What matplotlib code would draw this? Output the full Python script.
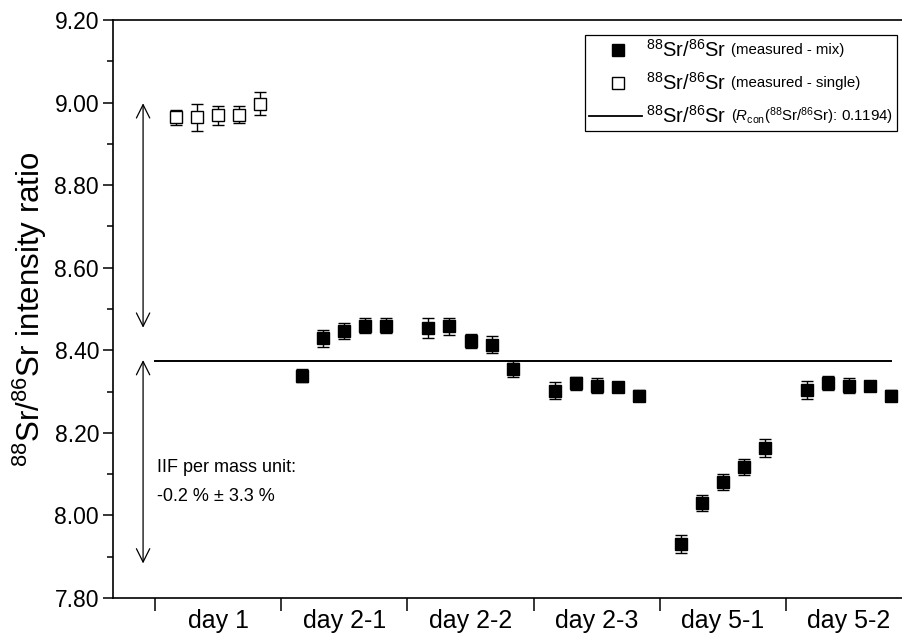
import numpy as np
import matplotlib
matplotlib.use("Agg")
import matplotlib.pyplot as plt
from matplotlib.lines import Line2D
from matplotlib.offsetbox import AnchoredOffsetbox, TextArea, DrawingArea, HPacker, VPacker

plt.rcParams['font.family'] = ['Liberation Sans', 'DejaVu Sans']
plt.rcParams['mathtext.fontset'] = 'custom'
plt.rcParams['mathtext.rm'] = 'Liberation Sans'
plt.rcParams['mathtext.it'] = 'Liberation Sans:italic'

# data
days = ['day 1', 'day 2-1', 'day 2-2', 'day 2-3', 'day 5-1', 'day 5-2']
single_day1 = [8.964, 8.964, 8.969, 8.971, 8.997]
single_day1_err = [0.018, 0.032, 0.023, 0.021, 0.028]
mix_vals = {
    'day 2-1': [8.338, 8.429, 8.447, 8.460, 8.460],
    'day 2-2': [8.453, 8.458, 8.422, 8.414, 8.354],
    'day 2-3': [8.302, 8.320, 8.314, 8.312, 8.290],
    'day 5-1': [7.931, 8.030, 8.081, 8.117, 8.163],
    'day 5-2': [8.304, 8.321, 8.314, 8.313, 8.290],
}
mix_errs = {
    'day 2-1': [0.016, 0.020, 0.020, 0.017, 0.017],
    'day 2-2': [0.024, 0.021, 0.017, 0.021, 0.019],
    'day 2-3': [0.021, 0.015, 0.018, 0.010, 0.014],
    'day 5-1': [0.021, 0.019, 0.020, 0.019, 0.021],
    'day 5-2': [0.021, 0.016, 0.018, 0.012, 0.013],
}
r_con = 0.1194
ref_ratio = 1 / r_con  # 8.375

slots = 6          # 5 measurements + one gap per day
pos = np.arange(1, 6)

fig = plt.figure(figsize=(9.02, 6.39), dpi=100)
ax = fig.add_axes([113/902, 41/639, 789/902, 578/639])

# single (open squares), day 1
x1 = 0 * slots + pos
ax.errorbar(x1, single_day1, yerr=single_day1_err, fmt='s', ms=8.5, mfc='white', mec='black',
            mew=1, ecolor='black', elinewidth=1, capsize=4.5, capthick=1, zorder=3)

# mix (filled squares)
for d in days[1:]:
    g = days.index(d)
    xs = g * slots + pos
    ax.errorbar(xs, mix_vals[d], yerr=mix_errs[d], fmt='s', ms=8, mfc='black', mec='black',
                ecolor='black', elinewidth=1, capsize=4.5, capthick=1, zorder=3)

# reference ratio line
ax.plot([0, 35], [ref_ratio, ref_ratio], color='black', lw=1.4, zorder=2)

# arrows
arrow_x = -0.57
ax.annotate('', xy=(arrow_x, 9.005), xytext=(arrow_x, 8.448),
            arrowprops=dict(arrowstyle='<->', lw=0.9, color='black', mutation_scale=24))
ax.annotate('', xy=(arrow_x, 8.383), xytext=(arrow_x, 7.877),
            arrowprops=dict(arrowstyle='<->', lw=0.9, color='black', mutation_scale=24))
ax.text(0.1, 8.117, 'IIF per mass unit:', fontsize=13, va='center', ha='left')
ax.text(0.1, 8.045, '-0.2 % \u00b1 3.3 %', fontsize=13, va='center', ha='left')

# axes
ax.set_xlim(-2, -2 + 789 / 21.03)
ax.set_ylim(7.80, 9.20)
ax.spines['right'].set_visible(False)
for s in ['left', 'bottom', 'top']:
    ax.spines[s].set_linewidth(1.2)

ax.set_yticks(np.arange(7.8, 9.21, 0.2))
ax.set_yticklabels(['%.2f' % v for v in np.arange(7.8, 9.21, 0.2)])
ax.set_yticks(np.arange(7.9, 9.2, 0.2), minor=True)
ax.tick_params(axis='y', which='major', direction='out', length=7, width=1.1, labelsize=16.5, pad=3)
ax.tick_params(axis='y', which='minor', direction='out', length=4, width=1.1)

ax.set_xticks(np.arange(len(days)) * slots)
ax.set_xticklabels([])
ax.set_xticks(np.arange(len(days)) * slots + 3, minor=True)
ax.set_xticklabels(days, minor=True)
ax.tick_params(axis='x', which='major', direction='out', length=9, width=1.1)
ax.tick_params(axis='x', which='minor', length=0, labelsize=18, pad=8)

ax.set_ylabel(r'$^{88}$Sr/$^{86}$Sr intensity ratio', fontsize=22.5, labelpad=4)

# legend built from pieces so the parentheses can be smaller
def handle(kind):
    da = DrawingArea(38, 10, 0, 0)
    if kind == 'line':
        da.add_artist(Line2D([0, 38], [5, 5], color='black', lw=1.3))
    else:
        fc = 'black' if kind == 'filled' else 'white'
        da.add_artist(Line2D([21], [5], marker='s', ms=8, mfc=fc, mec='black', mew=1, ls=''))
    return da

main_lab = r'$^{88}$Sr/$^{86}$Sr'
rows = []
for kind, small in [('filled', '(measured - mix)'),
                    ('open', '(measured - single)'),
                    ('line', r'($R_{\mathrm{con}}$($^{88}$Sr/$^{86}$Sr): 0.1194)')]:
    rows.append(HPacker(children=[handle(kind),
                                  TextArea(main_lab, textprops=dict(size=14.5)),
                                  TextArea(small, textprops=dict(size=10.8))],
                        align='center', pad=0, sep=3))
box = VPacker(children=rows, align='left', pad=0, sep=8)
leg = AnchoredOffsetbox(loc='upper right', child=box, pad=0.3, borderpad=0, frameon=True,
                        bbox_to_anchor=(897/902, 1 - 35/639), bbox_transform=fig.transFigure)
leg.patch.set_edgecolor('black')
leg.patch.set_linewidth(0.9)
ax.add_artist(leg)

fig.savefig('out.png', dpi=100)
